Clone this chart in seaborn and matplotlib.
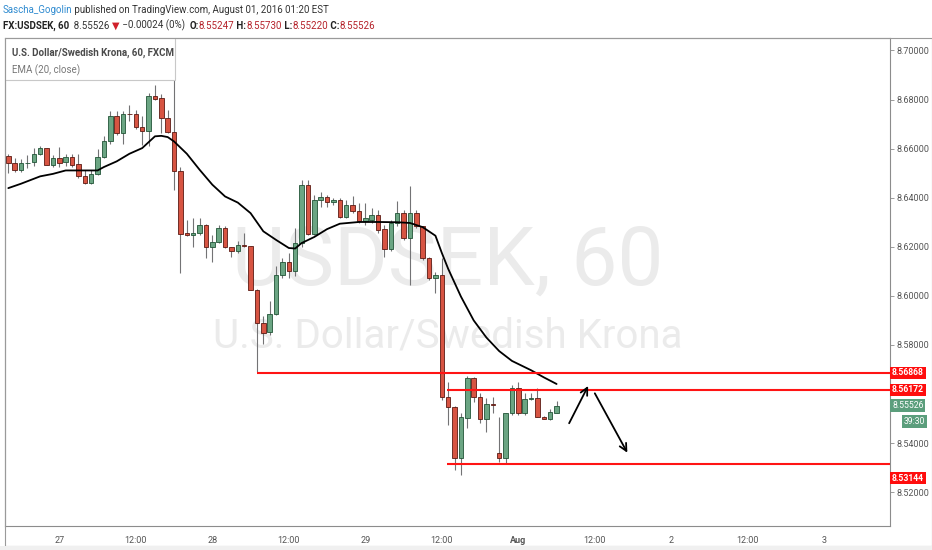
import numpy as np
import pandas as pd
import matplotlib
matplotlib.use("Agg")
import matplotlib.pyplot as plt
from matplotlib.patches import Rectangle
import seaborn as sns

# hourly candles (bar index 0..86)
opens = [8.6568, 8.6541, 8.6514, 8.6540, 8.6544, 8.6579, 8.6602, 8.6534, 8.6561, 8.6544,
         8.6565, 8.6537, 8.6489, 8.6459, 8.6497, 8.6565, 8.6629, 8.6731, 8.6663, 8.6741,
         8.6742, 8.6688, 8.6673, 8.6813, 8.6806, 8.6724, 8.6666, 8.6507, 8.6256, 8.6249,
         8.6256, 8.6290, 8.6198, 8.6219, 8.6276, 8.6198, 8.6181, 8.6207, 8.6203, 8.6024,
         8.5889, 8.5851, 8.5927, 8.6086, 8.6136, 8.6103, 8.6215, 8.6453, 8.6253, 8.6389,
         8.6402, 8.6381, 8.6391, 8.6323, 8.6371, 8.6344, 8.6303, 8.6310, 8.6330, 8.6272,
         8.6190, 8.6296, 8.6337, 8.6235, 8.6337, 8.6283, 8.6154, 8.6072, 8.6083, 8.5590,
         8.5549, 8.5338, 8.5501, 8.5664, 8.5590, 8.5497, 8.5559, 8.5359, 8.5338, 8.5522,
         8.5624, 8.5522, 8.5579, 8.5583, 8.5505, 8.5500, 8.55247]
highs = [8.6579, 8.6561, 8.6557, 8.6575, 8.6602, 8.6609, 8.6604, 8.6575, 8.6605, 8.6579,
         8.6579, 8.6579, 8.6514, 8.6514, 8.6598, 8.6650, 8.6754, 8.6754, 8.6752, 8.6779,
         8.6756, 8.6731, 8.6826, 8.6860, 8.6822, 8.6758, 8.6995, 8.6525, 8.6310, 8.6317,
         8.6317, 8.6291, 8.6249, 8.6290, 8.6283, 8.6201, 8.6222, 8.6256, 8.6205, 8.6026,
         8.5920, 8.5981, 8.6120, 8.6154, 8.6174, 8.6276, 8.6473, 8.6473, 8.6412, 8.6425,
         8.6412, 8.6398, 8.6398, 8.6391, 8.6405, 8.6378, 8.6378, 8.6357, 8.6351, 8.6289,
         8.6310, 8.6385, 8.6351, 8.6446, 8.6351, 8.6285, 8.6160, 8.6099, 8.6154, 8.5651,
         8.5551, 8.5522, 8.5674, 8.5671, 8.5603, 8.5583, 8.5590, 8.5505, 8.5524, 8.5637,
         8.5651, 8.5603, 8.5603, 8.5624, 8.5510, 8.5538, 8.55730]
lows = [8.6500, 8.6503, 8.6503, 8.6521, 8.6530, 8.6575, 8.6532, 8.6525, 8.6525, 8.6530,
        8.6527, 8.6480, 8.6457, 8.6457, 8.6493, 8.6561, 8.6618, 8.6656, 8.6618, 8.6711,
        8.6680, 8.6616, 8.6609, 8.6799, 8.6663, 8.6663, 8.6432, 8.6095, 8.6242, 8.6201,
        8.6249, 8.6154, 8.6140, 8.6215, 8.6194, 8.6160, 8.6174, 8.6198, 8.6022, 8.5691,
        8.5805, 8.5841, 8.5923, 8.6072, 8.6072, 8.6079, 8.6201, 8.6249, 8.6249, 8.6364,
        8.6364, 8.6371, 8.6317, 8.6317, 8.6337, 8.6296, 8.6289, 8.6296, 8.6256, 8.6158,
        8.6181, 8.6283, 8.6228, 8.6045, 8.6276, 8.6147, 8.6065, 8.6011, 8.5576, 8.5474,
        8.5291, 8.5270, 8.5461, 8.5569, 8.5481, 8.5447, 8.5522, 8.5325, 8.5318, 8.5515,
        8.5515, 8.5515, 8.5576, 8.5505, 8.5497, 8.5495, 8.55220]
closes = [8.6541, 8.6514, 8.6541, 8.6543, 8.6579, 8.6602, 8.6534, 8.6561, 8.6541, 8.6565,
          8.6534, 8.6487, 8.6459, 8.6497, 8.6565, 8.6632, 8.6731, 8.6663, 8.6741, 8.6740,
          8.6688, 8.6673, 8.6813, 8.6802, 8.6724, 8.6666, 8.6507, 8.6253, 8.6249, 8.6258,
          8.6290, 8.6198, 8.6221, 8.6276, 8.6198, 8.6181, 8.6208, 8.6203, 8.6024, 8.5889,
          8.5850, 8.5927, 8.6086, 8.6136, 8.6103, 8.6215, 8.6453, 8.6253, 8.6391, 8.6402,
          8.6381, 8.6389, 8.6323, 8.6371, 8.6344, 8.6303, 8.6317, 8.6330, 8.6269, 8.6190,
          8.6296, 8.6337, 8.6235, 8.6337, 8.6283, 8.6154, 8.6072, 8.6083, 8.5590, 8.5549,
          8.5338, 8.5505, 8.5664, 8.5590, 8.5497, 8.5560, 8.5555, 8.5338, 8.5522, 8.5624,
          8.5522, 8.5579, 8.5583, 8.5508, 8.5500, 8.5526, 8.55526]

# EMA(20, close)
ema_bars = [0, 2, 5, 7, 9, 11, 14, 15, 17, 19, 21, 23, 24, 25, 26, 28, 30, 32, 34, 36,
            38, 40, 42, 44, 45, 46, 48, 50, 52, 55, 58, 61, 63, 65, 67, 68, 69, 71, 73,
            75, 77, 79, 82, 84, 86]
ema_vals = [8.6439, 8.6457, 8.6487, 8.6497, 8.6511, 8.6511, 8.6511, 8.6525, 8.6548, 8.6579,
            8.6602, 8.6650, 8.6652, 8.6647, 8.6629, 8.6579, 8.6514, 8.6453, 8.6405, 8.6380,
            8.6337, 8.6263, 8.6228, 8.6195, 8.6193, 8.6215, 8.6240, 8.6272, 8.6294, 8.6301,
            8.6301, 8.6300, 8.6297, 8.6280, 8.6245, 8.6175, 8.6110, 8.5997, 8.5900, 8.5830,
            8.5775, 8.5735, 8.5697, 8.5668, 8.5641]

# x axis
tick_bars = [8, 20, 32, 44, 56, 68, 80, 92, 104, 116, 128]
tick_labels = ["27", "12:00", "28", "12:00", "29", "12:00", "Aug", "12:00", "2", "12:00", "3"]
price_ticks = [8.52, 8.54, 8.56, 8.58, 8.60, 8.62, 8.64, 8.66, 8.68, 8.70]
hidden_tick = 8.56  # covered by the price tags in the original

# drawn horizontal levels and arrows
level_prices = [8.56868, 8.56172, 8.53144]
level_starts = [39, 68.8, 68.8]
arrow_from = [(87.97, 8.5481), (92.0, 8.5603)]
arrow_to = [(90.95, 8.5633), (97.1, 8.5361)]

last_price = 8.55526
countdown = "39:30"

sns.set_style("white")
plt.rcParams["font.family"] = ["Roboto", "DejaVu Sans"]

up_fill, up_edge = "#6ba583", "#225437"
dn_fill, dn_edge = "#d75442", "#5b1a13"
wick_col = "#737375"
grey = "#555555"

fig = plt.figure(figsize=(9.32, 5.5), dpi=100)
fig.patch.set_facecolor("white")
ax = fig.add_axes([5 / 932, 24 / 550, 885 / 932, 488 / 550])

df = pd.DataFrame({"open": opens, "high": highs, "low": lows, "close": closes})
df["bar"] = np.arange(len(df))
df["up"] = df["close"] >= df["open"]
df["bottom"] = df[["open", "close"]].min(axis=1)
df["height"] = (df["close"] - df["open"]).abs().clip(lower=0.00012)

ax.vlines(df["bar"], df["low"], df["high"], colors=wick_col, lw=0.8, zorder=2)
for up, fill, edge in [(True, up_fill, up_edge), (False, dn_fill, dn_edge)]:
    d = df[df["up"] == up]
    ax.bar(d["bar"], d["height"], bottom=d["bottom"], width=0.72,
           color=fill, edgecolor=edge, linewidth=0.6, zorder=3)

sns.lineplot(x=ema_bars, y=ema_vals, color="black", lw=1.3, ax=ax, zorder=4, legend=False)

xmin, xmax = -0.52, 138.3
ax.set_xlim(xmin, xmax)
ax.set_ylim(8.50624, 8.70506)

for p, s in zip(level_prices, level_starts):
    ax.hlines(p, s, xmax, colors="#ff1414", lw=1.5, zorder=5)

for a, b in zip(arrow_from, arrow_to):
    ax.annotate("", xy=b, xytext=a,
                arrowprops=dict(arrowstyle="->", color="black", lw=1.3,
                                mutation_scale=13, shrinkA=0, shrinkB=0), zorder=6)

# watermark
ax.text(0.5, 0.4939, "USDSEK, 60", transform=ax.transAxes, ha="center", va="baseline",
        fontsize=59, color="#ebebeb", zorder=0)
ax.text(0.5, 0.3668, "U.S. Dollar/Swedish Krona", transform=ax.transAxes, ha="center",
        va="baseline", fontsize=29, color="#ebebeb", zorder=0)

# legend pane top-left
ax.add_patch(Rectangle((0, 1 - 42 / 488), 170 / 885, 42 / 488, transform=ax.transAxes,
                       facecolor="white", edgecolor="#c8c8c8", lw=0.8, zorder=7))
ax.text(7 / 885, 1 - 15 / 488, "U.S. Dollar/Swedish Krona, 60, FXCM", transform=ax.transAxes,
        fontsize=7, fontweight="bold", color="#4a4a4a", va="center", zorder=8)
ax.text(7 / 885, 1 - 32 / 488, "EMA (20, close)", transform=ax.transAxes,
        fontsize=7, color="#777777", va="center", zorder=8)

# axes styling
for sp in ax.spines.values():
    sp.set_color("#8c8c8c")
    sp.set_linewidth(0.8)
ax.yaxis.tick_right()
ax.set_yticks(price_ticks)
ax.set_yticklabels(["" if abs(v - hidden_tick) < 1e-9 else f"{v:.5f}" for v in price_ticks])
ax.set_xticks(tick_bars)
ax.set_xticklabels(tick_labels)
ax.tick_params(axis="both", direction="out", length=3, width=0.6, color="#8c8c8c",
               labelsize=6.5, labelcolor=grey)
ax.tick_params(axis="x", pad=4)
ax.tick_params(axis="y", pad=2)
for lab in ax.get_xticklabels():
    if lab.get_text() == "Aug":
        lab.set_fontweight("bold")
ax.set_xlabel("")
ax.set_ylabel("")

# price tags on the right scale
ytr = ax.get_yaxis_transform()
tag_kw = dict(textcoords="offset points", ha="left", va="center", fontsize=6.2,
              color="white", annotation_clip=False, zorder=9)
for i, p in enumerate(level_prices):
    dy = -10 if i == 2 else 0
    ax.annotate(f"{p:.5f}", xy=(1.0, p), xycoords=ytr, xytext=(1.5, dy), fontweight="bold",
                bbox=dict(boxstyle="square,pad=0.2", fc="#ff0d0d", ec="none"), **tag_kw)
ax.annotate(f"{last_price:.5f}", xy=(1.0, last_price), xycoords=ytr, xytext=(1.5, 0),
            bbox=dict(boxstyle="square,pad=0.2", fc="#5b9e7c", ec="none"), **tag_kw)
tag_kw["ha"] = "right"
ax.annotate(countdown, xy=(1.0, last_price), xycoords=ytr, xytext=(25.5, -11.5),
            bbox=dict(boxstyle="square,pad=0.2", fc="#5b9e7c", ec="none"), **tag_kw)

# outer frame around chart + scales
fig.add_artist(Rectangle((5 / 932, 4 / 550), 927 / 932, 508 / 550, transform=fig.transFigure,
                         fill=False, edgecolor="#9a9a9a", lw=0.8))
fig.add_artist(Rectangle((0, 0), 1, 4 / 550, transform=fig.transFigure,
                         facecolor="#f0f0f0", edgecolor="none"))


# header lines, pieces chained left to right
def chain(prev, s, **kw):
    return ax.annotate(s, xy=(1, 0), xycoords=prev, va="bottom", ha="left",
                       annotation_clip=False, **kw)


t = fig.text(3 / 932, 1 - 15 / 550, "Sascha_Gogolin", color="#2f8bd0", fontsize=7,
             va="bottom")
chain(t, " published on TradingView.com, August 01, 2016 01:20 EST", color="#333333", fontsize=7)

red_txt = "#b5222a"
pieces = [("FX:USDSEK, 60", "#222222", "bold"), ("  8.55526 ", "#333333", "normal"),
          ("▼", "#d0202a", "normal"), (" \u22120.00024 (0%)  ", "#333333", "normal"),
          ("O:", "#222222", "bold"), ("8.55247", red_txt, "normal"),
          (" H:", "#222222", "bold"), ("8.55730", red_txt, "normal"),
          (" L:", "#222222", "bold"), ("8.55220", red_txt, "normal"),
          (" C:", "#222222", "bold"), ("8.55526", red_txt, "normal")]
prev = fig.text(3 / 932, 1 - 31 / 550, pieces[0][0], color=pieces[0][1],
                fontweight=pieces[0][2], fontsize=7, va="bottom")
for s, c, w in pieces[1:]:
    prev = chain(prev, s, color=c, fontweight=w, fontsize=7)

fig.savefig("out.png", dpi=100)
